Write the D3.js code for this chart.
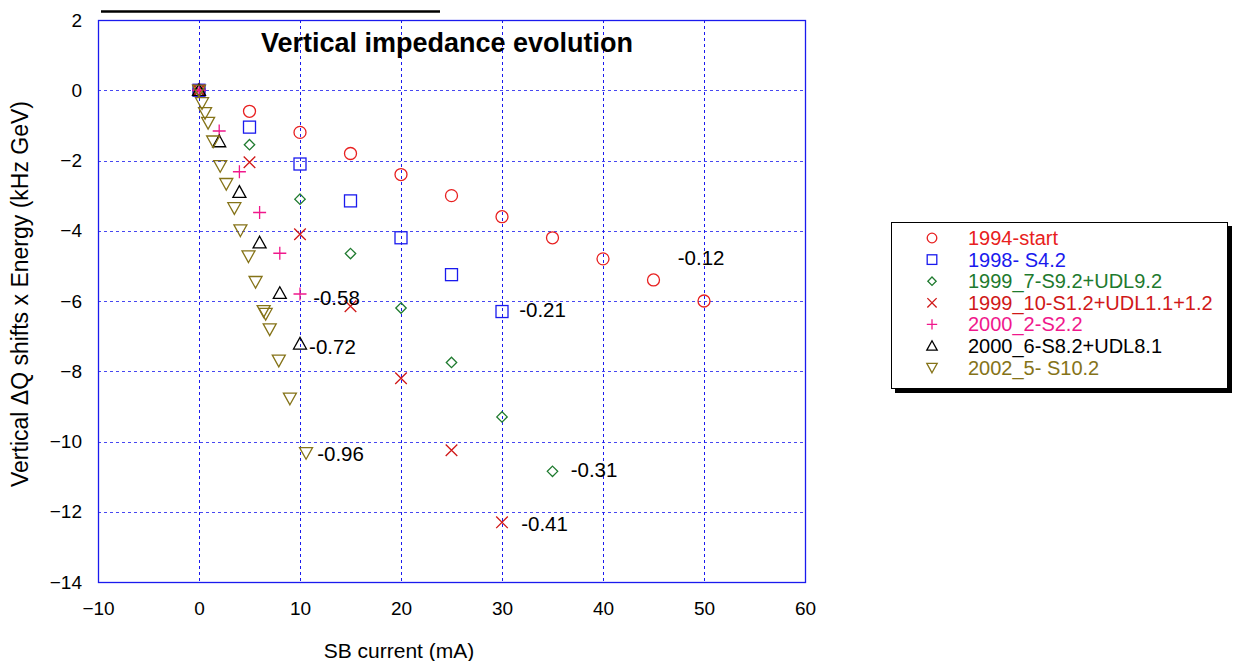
<!DOCTYPE html>
<html>
<head>
<meta charset="utf-8">
<script src="https://cdn.jsdelivr.net/npm/d3@7"></script>
<style>
  html, body { margin: 0; padding: 0; background: #fff; }
  svg { display: block; font-family: "Liberation Sans", Arial, sans-serif; }
</style>
</head>
<body>
<svg id="chart" width="1237" height="661"></svg>
<script>
// ---- data ----
const xTicks = [-10, 0, 10, 20, 30, 40, 50, 60];
const yTicks = [2, 0, -2, -4, -6, -8, -10, -12, -14];

const s1994 = [[0,0],[5,-0.6],[10,-1.2],[15,-1.8],[20,-2.4],[25,-3.0],[30,-3.6],[35,-4.2],[40,-4.8],[45,-5.4],[50,-6.0]];
const s1998 = [[0,0],[5,-1.05],[10,-2.1],[15,-3.15],[20,-4.2],[25,-5.25],[30,-6.3]];
const s1999_7 = [[0,0],[5,-1.55],[10,-3.1],[15,-4.65],[20,-6.2],[25,-7.75],[30,-9.3],[35,-10.85]];
const s1999_10 = [[0,0],[5,-2.05],[10,-4.1],[15,-6.15],[20,-8.2],[25,-10.25],[30,-12.3]];
const s2000_2 = [[0,0],[2,-1.16],[4,-2.32],[6,-3.48],[8,-4.64],[10,-5.8]];
const s2000_6 = [[0,0],[2,-1.46],[4,-2.9],[6,-4.34],[8,-5.78],[10,-7.22]];
const s2002_5 = [[0,0],[0.3,-0.36],[0.6,-0.64],[0.9,-0.92],[1.4,-1.45],[2.1,-2.15],[2.7,-2.66],[3.5,-3.35],[4.1,-3.98],[4.9,-4.72],[5.6,-5.45],[6.4,-6.28],[6.6,-6.36],[7.0,-6.8],[7.9,-7.69],[9.0,-8.77],[10.6,-10.32]];

const seriesNames = ["1994-start","1998- S4.2","1999_7-S9.2+UDL9.2","1999_10-S1.2+UDL1.1+1.2","2000_2-S2.2","2000_6-S8.2+UDL8.1","2002_5- S10.2"];
const seriesData = [s1994, s1998, s1999_7, s1999_10, s2000_2, s2000_6, s2002_5];
const seriesColors = ["#e82020","#1a1aee","#1e7a2e","#d01818","#f0188c","#000000","#857318"];
const seriesSymbols = ["circle","square","diamond","cross","plus","up","down"];

const annotLabels = ["-0.12","-0.21","-0.31","-0.41","-0.58","-0.72","-0.96"];
const annotX = [47.4, 31.7, 36.8, 31.9, 11.3, 10.9, 11.7];
const annotY = [-4.77, -6.25, -10.8, -12.35, -5.9, -7.3, -10.35];

// ---- layout ----
const svg = d3.select("#chart");
const L = 98, R = 805, T = 20, B = 582;
const x = d3.scaleLinear().domain([-10, 60]).range([L, R]);
const y = d3.scaleLinear().domain([-14, 2]).range([B, T]);
const gridColor = "#1a1aee";
const FF = "Liberation Sans, Arial, sans-serif";

// top decorative black line
svg.append("line").attr("x1", 101).attr("x2", 440).attr("y1", 11.5).attr("y2", 11.5)
  .attr("stroke", "#000").attr("stroke-width", 2.5);

// gridlines
const grid = svg.append("g");
grid.selectAll(".vg").data(xTicks.filter(d => d > -10 && d < 60)).enter().append("line")
  .attr("x1", d => Math.round(x(d)) + 0.5).attr("x2", d => Math.round(x(d)) + 0.5)
  .attr("y1", T).attr("y2", B)
  .attr("stroke", gridColor).attr("stroke-width", 1).attr("stroke-dasharray", "3,3");
grid.selectAll(".hg").data(yTicks.filter(d => d < 2 && d > -14)).enter().append("line")
  .attr("x1", L).attr("x2", R)
  .attr("y1", d => Math.round(y(d)) + 0.5).attr("y2", d => Math.round(y(d)) + 0.5)
  .attr("stroke", gridColor).attr("stroke-width", 1.2).attr("stroke-dasharray", "3,3").attr("opacity", 0.8);

// frame
svg.append("rect").attr("x", L + 0.5).attr("y", T + 0.5).attr("width", R - L).attr("height", B - T)
  .attr("fill", "none").attr("stroke", gridColor).attr("stroke-width", 1.3);

// axes (labels only)
const xAxis = d3.axisBottom(x).tickValues(xTicks).tickSize(0).tickPadding(0);
const gx = svg.append("g").attr("transform", `translate(0,${B + 26})`).call(xAxis);
gx.select(".domain").remove();
gx.selectAll("text").attr("font-size", 19).attr("fill", "#000").attr("dy", "0.35em")
  .attr("font-family", FF);

const yAxis = d3.axisLeft(y).tickValues(yTicks).tickSize(0).tickPadding(0);
const gy = svg.append("g").attr("transform", `translate(${L - 16},0)`).call(yAxis);
gy.select(".domain").remove();
gy.selectAll("text").attr("font-size", 19).attr("fill", "#000")
  .attr("font-family", FF);

// titles
svg.append("text").attr("x", 447).attr("y", 52).attr("text-anchor", "middle")
  .attr("font-size", 27).attr("font-weight", "bold").text("Vertical impedance evolution");
svg.append("text").attr("x", 399).attr("y", 658).attr("text-anchor", "middle")
  .attr("font-size", 21).text("SB current (mA)");
svg.append("text").attr("transform", "translate(28,294) rotate(-90)").attr("text-anchor", "middle")
  .attr("font-size", 23).text("Vertical \u0394Q shifts x Energy (kHz GeV)");

// symbols
function drawSymbol(g, type, color, s) {
  s = s || 1;
  if (type === "circle") {
    g.append("circle").attr("r", 6 * s).attr("fill", "none").attr("stroke", color).attr("stroke-width", 1.3);
  } else if (type === "square") {
    g.append("rect").attr("x", -6 * s).attr("y", -6 * s).attr("width", 12 * s).attr("height", 12 * s)
      .attr("fill", "none").attr("stroke", color).attr("stroke-width", 1.3);
  } else if (type === "diamond") {
    const r = 5.2 * s;
    g.append("path").attr("d", `M0,${-r}L${r},0L0,${r}L${-r},0Z`).attr("fill", "none").attr("stroke", color).attr("stroke-width", 1.3);
  } else if (type === "cross") {
    const r = 5.8 * s;
    g.append("path").attr("d", `M${-r},${-r}L${r},${r}M${-r},${r}L${r},${-r}`).attr("stroke", color).attr("stroke-width", 1.3);
  } else if (type === "plus") {
    const r = 6.5 * s;
    g.append("path").attr("d", `M${-r},0L${r},0M0,${-r}L0,${r}`).attr("stroke", color).attr("stroke-width", 1.3);
  } else if (type === "up") {
    const r = 6.5 * s;
    g.append("path").attr("d", `M0,${-r}L${r},${r * 0.8}L${-r},${r * 0.8}Z`).attr("fill", "none").attr("stroke", color).attr("stroke-width", 1.3);
  } else if (type === "down") {
    const r = 6.5 * s;
    g.append("path").attr("d", `M0,${r}L${r},${-r * 0.8}L${-r},${-r * 0.8}Z`).attr("fill", "none").attr("stroke", color).attr("stroke-width", 1.3);
  }
}

const pts = svg.append("g");
seriesData.forEach((data, i) => {
  data.forEach(d => {
    const g = pts.append("g").attr("transform", `translate(${x(d[0])},${y(d[1])})`);
    drawSymbol(g, seriesSymbols[i], seriesColors[i]);
  });
});

// annotations
svg.append("g").selectAll("text").data(annotLabels).enter().append("text")
  .attr("x", (d, i) => x(annotX[i])).attr("y", (d, i) => y(annotY[i]))
  .attr("dy", "0.35em").attr("font-size", 20.5).attr("fill", "#000").attr("font-family", FF).text(d => d);

// legend
const lg = svg.append("g");
lg.append("rect").attr("x", 895).attr("y", 226).attr("width", 337).attr("height", 167).attr("fill", "#000");
lg.append("rect").attr("x", 891.5).attr("y", 222.5).attr("width", 336).attr("height", 166)
  .attr("fill", "#fff").attr("stroke", "#000").attr("stroke-width", 1);
seriesNames.forEach((name, i) => {
  const cy = 238 + i * 21.6;
  const g = lg.append("g").attr("transform", `translate(932,${cy})`);
  drawSymbol(g, seriesSymbols[i], seriesColors[i], 0.8);
  lg.append("text").attr("x", 968).attr("y", cy).attr("dy", "0.35em").attr("font-size", 20)
    .attr("fill", seriesColors[i]).attr("font-family", FF).text(name);
});
</script>
</body>
</html>
